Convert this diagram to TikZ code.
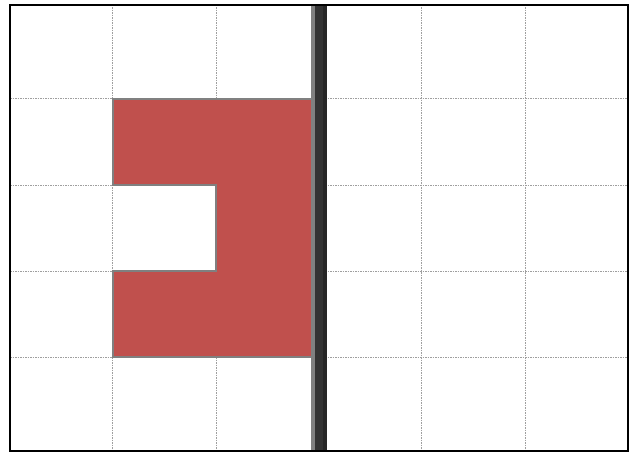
\documentclass[tikz,border=0pt]{standalone}
\begin{document}
\begin{tikzpicture}[x=1pt,y=-1pt,
  gridline/.style={draw=gray!75, line width=0.9pt, dash pattern=on 1.5pt off 1pt},
  frameline/.style={draw=black, line width=2pt},
  shapeline/.style={draw=gray, fill=redfill, line width=2pt, line join=miter}]
\definecolor{redfill}{HTML}{C0504D}
\useasboundingbox (0,0) rectangle (641,455);
\fill[white] (0,0) rectangle (641,455);
% grid
\foreach \x in {112.7,216,421.7,525} \draw[gridline] (\x,4.5) -- (\x,451);
\foreach \y in {98.7,185,271,357.3} \draw[gridline] (10,\y) -- (628,\y);
% red shape
\draw[shapeline] (112.7,98.7) -- (312,98.7) -- (312,357.3) -- (112.7,357.3) -- (112.7,271) -- (216,271) -- (216,185) -- (112.7,185) -- cycle;
% bar
\fill[gray] (311,4.5) rectangle (315,451);
\fill[black!80] (315,4.5) rectangle (323,451);
\fill[black!85] (323,4.5) rectangle (327,451);
% frame
\draw[frameline] (10,4.5) rectangle (628,451);
\end{tikzpicture}
\end{document}
